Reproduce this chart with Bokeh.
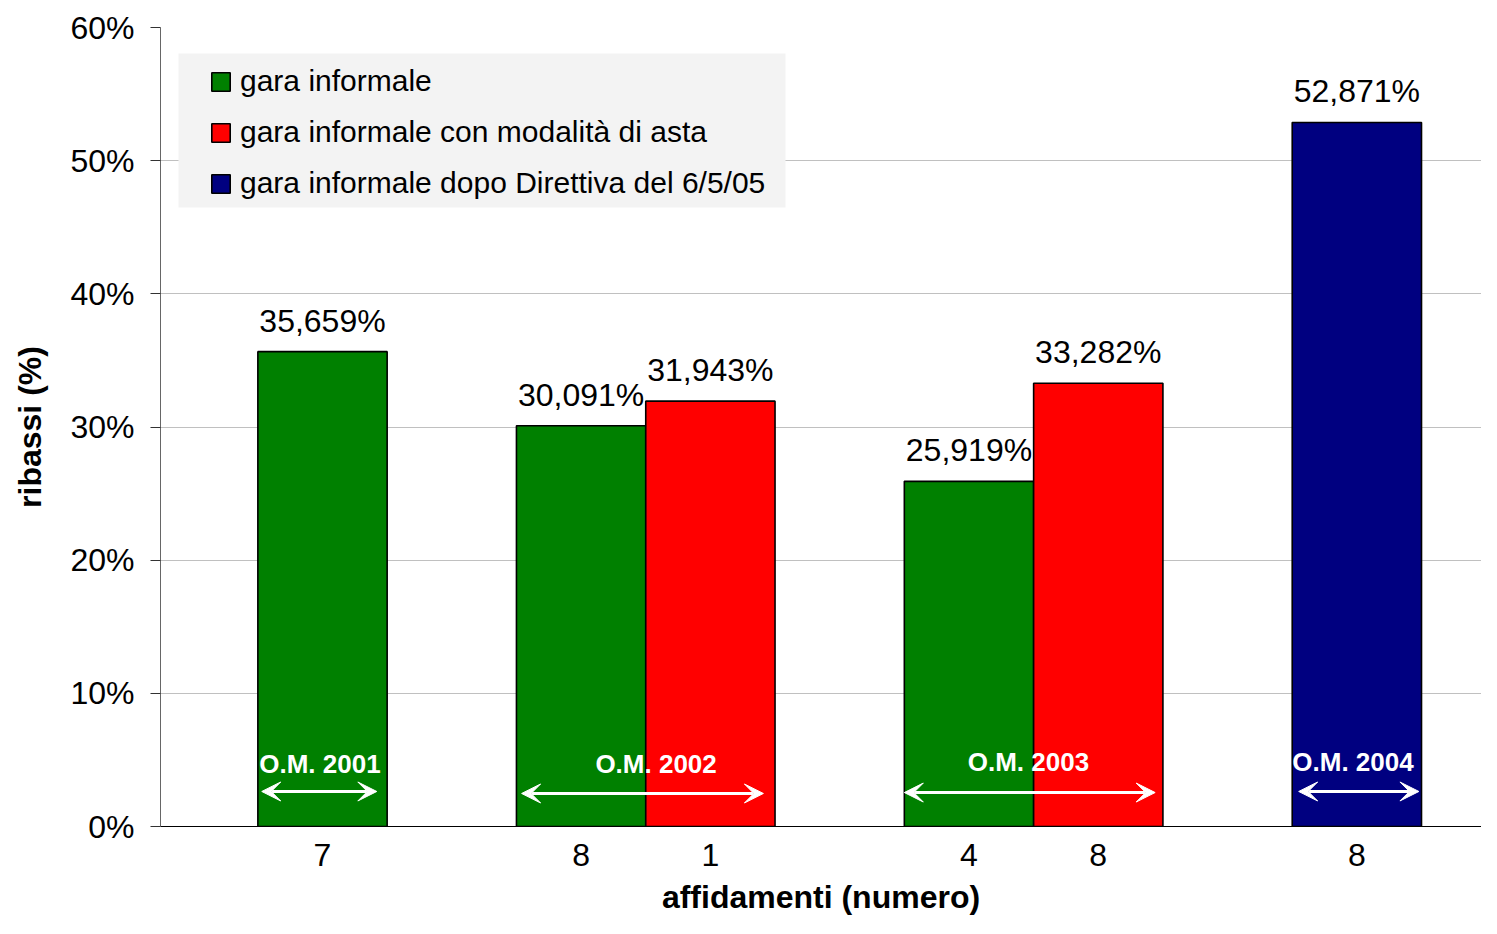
from bokeh.plotting import figure
from bokeh.models import (ColumnDataSource, Range1d, FixedTicker, Legend, LegendItem,
                          Label, Arrow, VeeHead, BoxAnnotation)
from bokeh.core.properties import value
from bokeh.embed import file_html
from bokeh.resources import INLINE

FONT = "Liberation Sans"

# ---- data ----
series_names = ["gara informale",
                "gara informale con modalità di asta",
                "gara informale dopo Direttiva del 6/5/05"]
series_colors = ["#008000", "#ff0000", "#000080"]

# slot index of each bar along the category axis
green_slots = [1, 3, 6]
green_values = [35.659, 30.091, 25.919]
red_slots = [4, 7]
red_values = [31.943, 33.282]
blue_slots = [9]
blue_values = [52.871]

# category (tick) labels: number of affidamenti under each bar
tick_slots = [1, 3, 4, 6, 7, 9]
tick_labels = ["7", "8", "1", "4", "8", "8"]

y_ticks = [0, 10, 20, 30, 40, 50, 60]
y_tick_labels = ["0%", "10%", "20%", "30%", "40%", "50%", "60%"]

# period annotations (O.M. = ordinanza ministeriale)
om_labels = ["O.M. 2001", "O.M. 2002", "O.M. 2003", "O.M. 2004"]
om_label_x = [0.98, 3.58, 6.46, 8.97]
om_label_y = [4.73, 4.73, 4.88, 4.88]
om_arrow_start = [0.53, 2.54, 5.50, 8.55]
om_arrow_end = [1.42, 4.41, 7.44, 9.48]
om_arrow_y = [2.63, 2.48, 2.55, 2.63]


def fmt(v):
    return f"{v:.3f}".replace(".", ",") + "%"


p = figure(width=1481, height=918, output_backend="svg", toolbar_location=None,
           x_range=Range1d(-0.253, 9.964), y_range=Range1d(0, 60),
           min_border_left=160, min_border_right=0, min_border_top=27,
           min_border_bottom=92, background_fill_color="white",
           border_fill_color="white", outline_line_color=None)

# legend background panel
p.add_layout(BoxAnnotation(left=-0.114, right=4.581, top=58.05, bottom=46.48,
                           fill_color="#f3f3f3", fill_alpha=1.0, line_color=None,
                           level="underlay"))

renderers = []
for slots, vals, col in [(green_slots, green_values, series_colors[0]),
                         (red_slots, red_values, series_colors[1]),
                         (blue_slots, blue_values, series_colors[2])]:
    src = ColumnDataSource(dict(x=slots, top=vals, lab=[fmt(v) for v in vals]))
    r = p.vbar(x="x", top="top", bottom=0, width=1.0, source=src,
               fill_color=col, line_color="black", line_width=1.6)
    renderers.append(r)
    p.text(x="x", y="top", text="lab", source=src, text_align="center",
           text_baseline="middle", y_offset=-31, text_font_size="32px",
           text_font=value(FONT), text_color="black")

# annotations inside bars
for lab, lx, ly, xs, xe, ay in zip(om_labels, om_label_x, om_label_y,
                                   om_arrow_start, om_arrow_end, om_arrow_y):
    p.add_layout(Label(x=lx, y=ly, text=lab, text_align="center",
                       text_baseline="middle", text_font_size="26px",
                       text_font=FONT, text_font_style="bold", text_color="white"))
    p.add_layout(Arrow(x_start=xs, y_start=ay, x_end=xe, y_end=ay,
                       line_color="white", line_width=3,
                       start=VeeHead(size=19, fill_color="white", line_color="white"),
                       end=VeeHead(size=19, fill_color="white", line_color="white")))

# axes
p.yaxis.ticker = FixedTicker(ticks=y_ticks)
p.yaxis.major_label_overrides = {t: l for t, l in zip(y_ticks, y_tick_labels)}
p.yaxis.major_label_text_font = FONT
p.yaxis.major_label_text_font_size = "32px"
p.yaxis.major_label_text_color = "black"
p.yaxis.major_label_standoff = 16
p.yaxis.major_tick_in = 0
p.yaxis.major_tick_out = 10
p.yaxis.major_tick_line_color = "#333333"
p.yaxis.minor_tick_line_color = None
p.yaxis.axis_line_color = "#666666"
p.yaxis.axis_label = "ribassi (%)"
p.yaxis.axis_label_text_font = FONT
p.yaxis.axis_label_text_font_size = "32px"
p.yaxis.axis_label_text_font_style = "bold"
p.yaxis.axis_label_text_color = "black"
p.yaxis.axis_label_standoff = 19

p.xaxis.ticker = FixedTicker(ticks=tick_slots)
p.xaxis.major_label_overrides = {t: l for t, l in zip(tick_slots, tick_labels)}
p.xaxis.major_label_text_font = FONT
p.xaxis.major_label_text_font_size = "32px"
p.xaxis.major_label_text_color = "black"
p.xaxis.major_label_standoff = 11
p.xaxis.major_tick_line_color = None
p.xaxis.minor_tick_line_color = None
p.xaxis.axis_line_color = "black"
p.xaxis.axis_line_width = 1.2
p.xaxis.axis_label = "affidamenti (numero)"
p.xaxis.axis_label_text_font = FONT
p.xaxis.axis_label_text_font_size = "32px"
p.xaxis.axis_label_text_font_style = "bold"
p.xaxis.axis_label_text_color = "black"
p.xaxis.axis_label_standoff = 10

p.xgrid.grid_line_color = None
p.ygrid.ticker = FixedTicker(ticks=y_ticks)
p.ygrid.grid_line_color = "#c0c0c0"
p.ygrid.grid_line_width = 1

legend = Legend(items=[LegendItem(label=n, renderers=[r]) for n, r in zip(series_names, renderers)],
                location=(49, 626), glyph_width=23, glyph_height=23, label_standoff=8,
                label_text_font=FONT, label_text_font_size="30px", label_text_color="black",
                padding=0, spacing=17, margin=0,
                background_fill_alpha=0.0, border_line_color=None)
p.add_layout(legend)

open("out.html", "w").write(file_html(p, INLINE))
